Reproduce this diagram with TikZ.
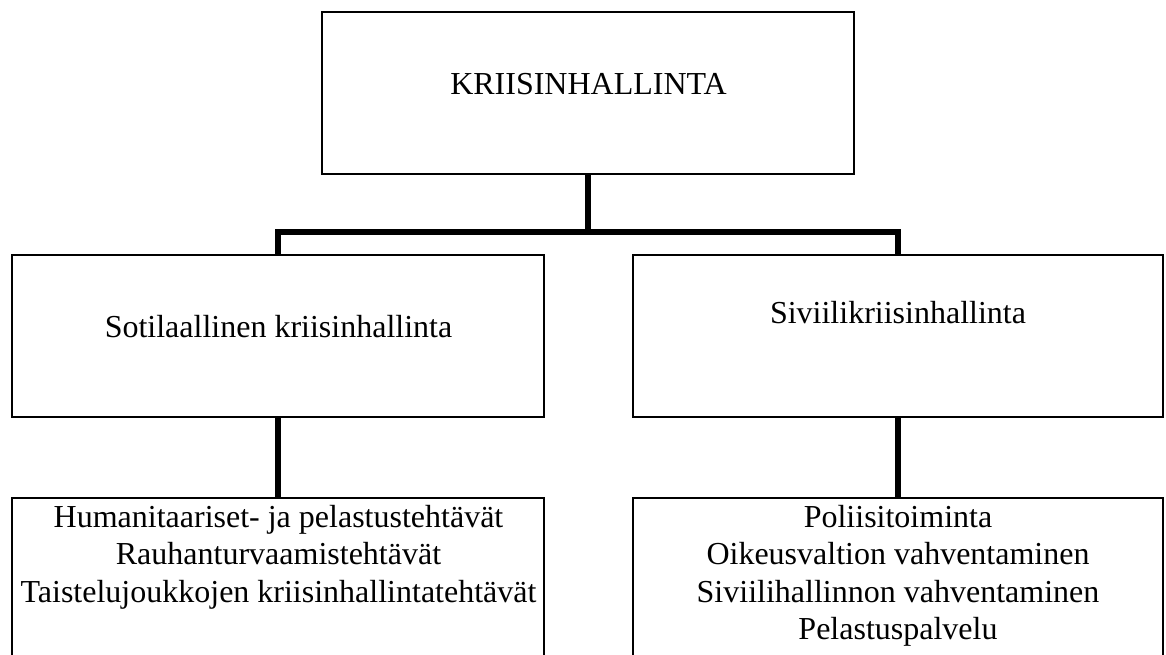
\documentclass[tikz,border=0pt]{standalone}
\usepackage{fontspec}
\setmainfont{Liberation Serif}
\begin{document}
\begin{tikzpicture}[x=0.75pt,y=0.75pt,yscale=-1,xscale=1,
  box/.style={draw, line width=1.2pt, inner sep=0pt, minimum width=399pt, minimum height=121.5pt},
  link/.style={line width=4.2pt},
  txt/.style={font=\fontsize{24}{28.1}\selectfont, align=center, inner sep=0pt, anchor=base}]
\useasboundingbox (0,0) rectangle (1166,654);

%Boxes
\node[box] (crisis) at (588,93) {};
\node[box] (military) at (278,336) {};
\node[box, minimum width=397.5pt] (civil) at (898,336) {};
\node[box, minimum height=151.5pt] (miltasks) at (278,599) {};
\node[box, minimum width=397.5pt, minimum height=151.5pt] (civtasks) at (898,599) {};

%Connectors
\coordinate (split) at (588,232);
\draw[link] (crisis.south) -- (split);
\draw[link] (military.north) |- (split) -| (civil.north);
\draw[link] (military.south) -- (miltasks.north);
\draw[link] (civil.south) -- (civtasks.north);

% Text Node
\node[txt] (crisistext) at (588.5,94.3) {KRIISINHALLINTA};
% Text Node
\node[txt] (militarytext) at (278.5,337.3) {Sotilaallinen kriisinhallinta};
% Text Node
\node[txt] (civiltext) at (898,323) {Siviilikriisinhallinta};
% Text Node (base = last line)
\node[txt] (miltaskstext) at (278.5,602.3) {Humanitaariset- ja pelastustehtävät\\Rauhanturvaamistehtävät\\Taistelujoukkojen kriisinhallintatehtävät};
% Text Node (base = last line)
\node[txt] (civtaskstext) at (898,639.5) {Poliisitoiminta\\Oikeusvaltion vahventaminen\\Siviilihallinnon vahventaminen\\Pelastuspalvelu};

\end{tikzpicture}
\end{document}
